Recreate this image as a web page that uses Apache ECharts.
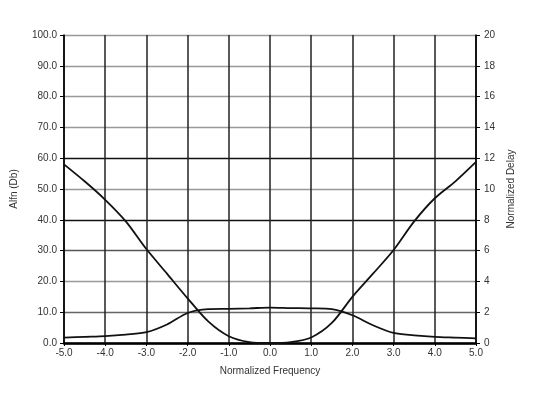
<!DOCTYPE html>
<html>
<head>
<meta charset="utf-8">
<script src="https://cdn.jsdelivr.net/npm/echarts@6/dist/echarts.min.js"></script>
<style>
html, body { margin: 0; padding: 0; background: #fff; }
#main { width: 541px; height: 398px; }
</style>
</head>
<body>
<div id="main"></div>
<script>
// normalized frequency, step 0.5
var freq = [-5, -4.5, -4, -3.5, -3, -2.5, -2, -1.5, -1, -0.5, 0, 0.5, 1, 1.5, 2, 2.5, 3, 3.5, 4, 4.5, 5]
// attenuation in Db (left axis)
var alfn = [58, 52.5, 46.5, 39.5, 30.5, 22.5, 14.5, 7, 2.2, 0.3, 0, 0.3, 1.8, 6.5, 15, 22.5, 30.2, 39.5, 47, 52.5, 58.8]
// normalized delay (right axis)
var delay = [0.35, 0.4, 0.45, 0.55, 0.7, 1.2, 1.95, 2.2, 2.22, 2.25, 2.3, 2.27, 2.25, 2.2, 1.8, 1.15, 0.65, 0.5, 0.4, 0.35, 0.3]

var myChart = echarts.init(document.getElementById('main'))

var font = 'Liberation Sans, Arial, sans-serif'

var option = {
  animation: false,
  backgroundColor: '#fff',
  grid: {
    left: 64,
    right: 65,
    top: 35,
    bottom: 55
  },
  xAxis: {
    type: 'value',
    min: -5,
    max: 5,
    interval: 1,
    name: 'Normalized Frequency',
    nameLocation: 'middle',
    nameGap: 23,
    nameTextStyle: { fontFamily: font, fontSize: 10, color: '#333' },
    axisLine: { onZero: false, lineStyle: { color: '#000', width: 2.5 } },
    axisTick: { length: 3, lineStyle: { color: '#000' } },
    axisLabel: {
      fontFamily: font, fontSize: 10, color: '#333', margin: 5,
      formatter: function (v) { return v.toFixed(1) }
    },
    splitLine: { show: true, lineStyle: { color: '#222', width: 1.5 } }
  },
  yAxis: [
    {
      type: 'value',
      min: 0,
      max: 100,
      interval: 10,
      name: 'Alfn (Db)',
      nameLocation: 'middle',
      nameGap: 45,
      nameTextStyle: { fontFamily: font, fontSize: 10, color: '#333' },
      axisLine: { show: true, onZero: false, lineStyle: { color: '#000', width: 1.5 } },
      axisTick: { show: true, length: 4, lineStyle: { color: '#000' } },
      axisLabel: {
        fontFamily: font, fontSize: 10, color: '#333', margin: 7,
        formatter: function (v) { return v.toFixed(1) }
      },
      splitLine: {
        show: true,
        lineStyle: {
          color: ['#000', '#666', '#999', '#555', '#111', '#999', '#111', '#999', '#999', '#999', '#999'],
          width: 1.3
        }
      }
    },
    {
      type: 'value',
      min: 0,
      max: 20,
      interval: 2,
      name: 'Normalized Delay',
      nameLocation: 'middle',
      nameGap: 30,
      nameRotate: 90,
      nameTextStyle: { fontFamily: font, fontSize: 10, color: '#333' },
      axisLine: { show: true, onZero: false, lineStyle: { color: '#000', width: 1.5 } },
      axisTick: { show: true, length: 4, lineStyle: { color: '#000' } },
      axisLabel: { fontFamily: font, fontSize: 10, color: '#333', margin: 8 },
      splitLine: { show: false }
    }
  ],
  series: [
    {
      name: 'Alfn',
      type: 'line',
      yAxisIndex: 0,
      data: freq.map(function (f, i) { return [f, alfn[i]] }),
      smooth: 0.3,
      showSymbol: false,
      lineStyle: { color: '#111', width: 1.8 }
    },
    {
      name: 'Delay',
      type: 'line',
      yAxisIndex: 1,
      data: freq.map(function (f, i) { return [f, delay[i]] }),
      smooth: 0.3,
      showSymbol: false,
      lineStyle: { color: '#111', width: 1.8 }
    }
  ]
}

option && myChart.setOption(option)
</script>
</body>
</html>
